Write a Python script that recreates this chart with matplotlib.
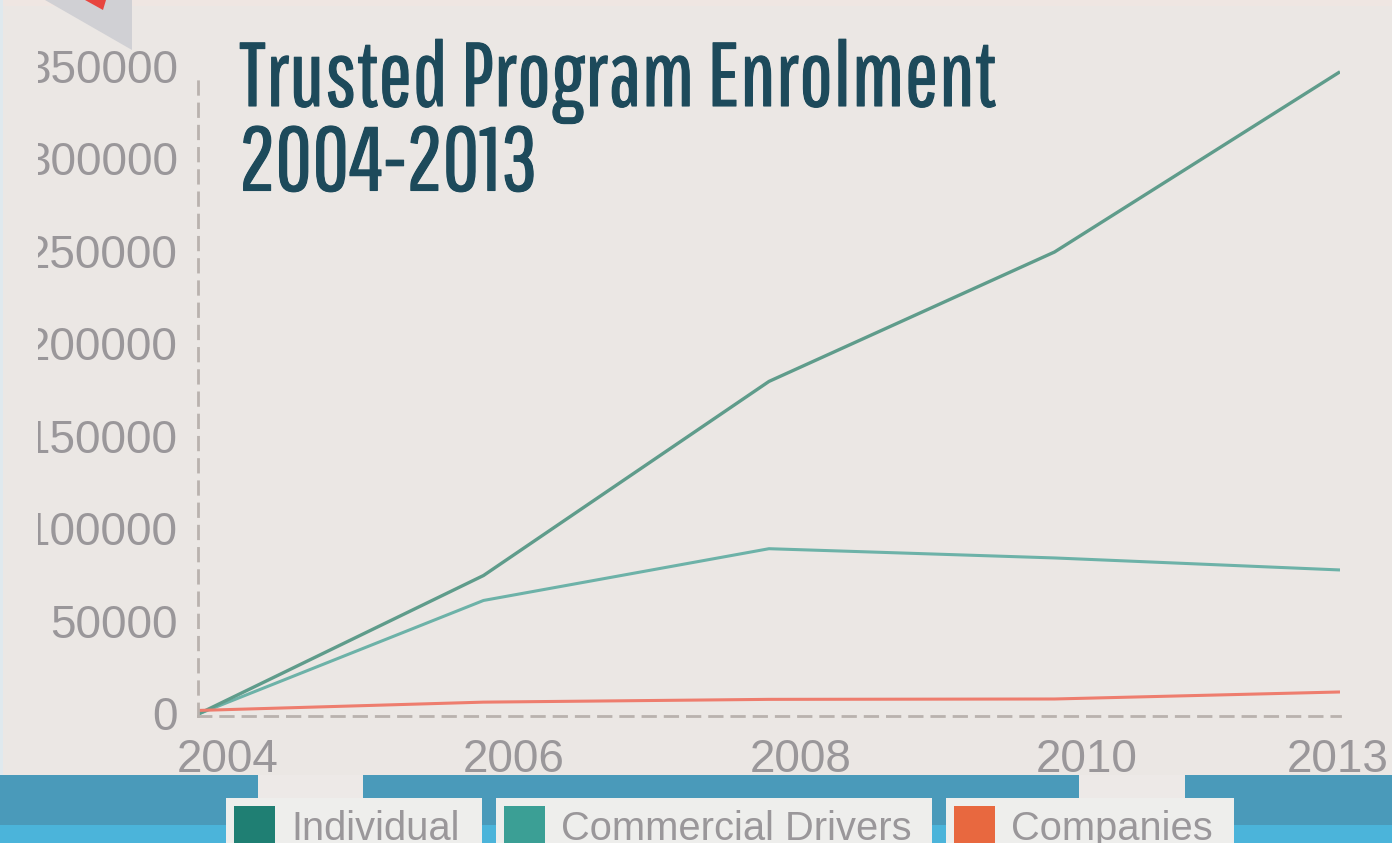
import matplotlib
matplotlib.use('Agg')
import matplotlib.pyplot as plt
import matplotlib.patches as mpatches
import matplotlib.patheffects as pe
from matplotlib.transforms import Bbox, ScaledTranslation

W = 1392
H = 843

years = ['2004', '2006', '2008', '2010', '2013']
individual = [1000, 76000, 181000, 251000, 348500]
commercial = [1000, 62500, 90500, 85500, 79000]
companies = [3000, 7500, 9000, 9200, 13000]
y_ticks = [0, 50000, 100000, 150000, 200000, 250000, 300000, 350000]
legend_labels = ['Individual', 'Commercial Drivers', 'Companies']
legend_colors = ['#1f7f73', '#3b9f95', '#e8683f']
line_colors = ['#5f9c8b', '#6db2a8', '#ee7d6e']
title_lines = 'Trusted Program Enrolment\n2004-2013'

bg = '#ebe7e4'
grey = '#9a979a'
dash = '#b9b2ae'
title_color = '#1d4a5b'

plt.rcParams['font.family'] = ['Liberation Sans', 'DejaVu Sans']

fig = plt.figure(figsize=(W / 100, H / 100), dpi=100, facecolor=bg)


def px_rect(x0, y0, x1, y1, color, z=0):
    # rectangle given in pixels from the top left corner
    r = mpatches.Rectangle((x0 / W, 1 - y1 / H), (x1 - x0) / W, (y1 - y0) / H,
                           transform=fig.transFigure, facecolor=color,
                           edgecolor='none', zorder=z)
    fig.add_artist(r)


def px_poly(points, color, z=0):
    pts = [(x / W, 1 - y / H) for x, y in points]
    fig.add_artist(mpatches.Polygon(pts, closed=True, transform=fig.transFigure,
                                    facecolor=color, edgecolor='none', zorder=z))


# folded corner at the top
px_rect(0, 0, 1392, 6, '#efe6e2')
px_rect(0, 0, 3, 775, '#dfe9ee')
px_poly([(45, 0), (132, 0), (132, 50)], '#d0d0d4')
px_poly([(85, 0), (106, 0), (103, 10)], '#e8453f')

# bands under the plot
px_rect(0, 775, W, 825, '#4a9aba')
px_rect(0, 825, W, H, '#4bb4da')
px_rect(258, 775, 363, 800, '#ede9e7')
px_rect(1079, 775, 1185, 800, '#ede9e7')

ax = fig.add_axes([198 / W, 1 - 716 / H, (1340 - 198) / W, (716 - 69) / H])
ax.set_facecolor('none')

x = range(len(years))
ax.plot(x, commercial, color=line_colors[1], lw=2.2, solid_capstyle='butt')
ax.plot(x, individual, color=line_colors[0], lw=2.4, solid_capstyle='butt')
ax.plot(x, companies, color=line_colors[2], lw=2.2, solid_capstyle='butt')

ax.set_xlim(0, len(years) - 1)
ax.set_ylim(0, 350000)
ax.set_xticks(list(x))
ax.set_xticklabels(years)
ax.set_yticks(y_ticks)
ax.tick_params(length=0, labelsize=33, labelcolor=grey)
ax.tick_params(axis='x', pad=16)
ax.tick_params(axis='y', pad=14.5)

for s in ['top', 'right']:
    ax.spines[s].set_visible(False)
for s in ['left', 'bottom']:
    ax.spines[s].set_color(dash)
    ax.spines[s].set_linewidth(2)
    ax.spines[s].set_linestyle((0, (4.5, 3.5)))
ax.spines['left'].set_bounds(0, 347000)

# year labels sit to the right of their points, the last one is centred on it
shifts = [30, 30, 32, 32, -2]
for lab, dx in zip(ax.get_xticklabels(), shifts):
    lab.set_transform(lab.get_transform() + ScaledTranslation(dx / 100, 0, fig.dpi_scale_trans))

# the left digit of the long labels is cut off by the panel edge
clip = Bbox([[38, 0], [W, H]])
for lab in ax.get_yticklabels():
    lab.set_clip_box(clip)
    lab.set_clip_on(True)
    lab.set_transform(lab.get_transform() + ScaledTranslation(0, 3 / 100, fig.dpi_scale_trans))

title = fig.text(239 / W, 1 - 39 / H, title_lines, family=['Pathway Gothic One', 'Liberation Sans'],
                 fontsize=65, color=title_color, va='top', ha='left', linespacing=1.0)
title.set_path_effects([pe.withStroke(linewidth=0.8, foreground=title_color)])

# legend boxes along the bottom edge
boxes = [(226, 482), (496, 932), (946, 1234)]
for (x0, x1), name, col in zip(boxes, legend_labels, legend_colors):
    px_rect(x0, 798, x1, H, '#eeeeec', z=2)
    px_rect(x0 + 8, 806, x0 + 49, H, col, z=3)
    fig.text((x0 + 65) / W, 1 - 829 / H, name, fontsize=28.7, color=grey, va='center', ha='left', zorder=4)

fig.savefig('out.png', dpi=100, facecolor=bg)
